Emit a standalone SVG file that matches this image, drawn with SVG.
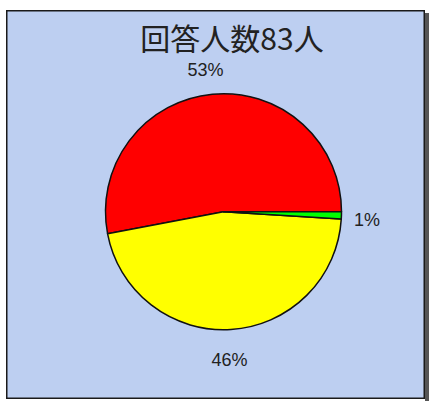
<svg xmlns="http://www.w3.org/2000/svg" width="429" height="401" viewBox="0 0 429 401">
<style>
.lbl{font-family:"Liberation Sans","DejaVu Sans",sans-serif;font-size:18px;fill:#222}
.title{font-family:"Noto Sans CJK JP","Noto Sans CJK SC",sans-serif;font-size:30px;fill:#222}
.slice{stroke:#111;stroke-width:1.5;stroke-linejoin:round}
</style>
<rect x="0" y="0" width="429" height="401" fill="#ffffff"/>
<rect x="425" y="13" width="4" height="388" fill="#555"/>
<g id="frame">
<rect x="6.75" y="10.75" width="417.5" height="387.5" fill="#BDCFF1" stroke="#1a1a1a" stroke-width="1.5"/>
</g>
<g id="title"><text class="title" x="232" y="50" text-anchor="middle">回答人数83人</text></g>
<g id="pie">
<g id="slice-red"><path class="slice" fill="#FF0000" d="M223.5 211.7 L341.5 211.7 A118 118 0 1 0 107.59 233.81 Z"/></g>
<g id="slice-yellow"><path class="slice" fill="#FFFF00" d="M223.5 211.7 L107.59 233.81 A118 118 0 0 0 341.27 219.11 Z"/></g>
<g id="slice-green"><path class="slice" fill="#00FF00" d="M223.5 211.7 L341.27 219.11 A118 118 0 0 0 341.5 211.7 Z"/></g>
</g>
<g id="labels">
<text class="lbl" x="205.5" y="76" text-anchor="middle">53%</text>
<text class="lbl" x="229.5" y="366" text-anchor="middle">46%</text>
<text class="lbl" x="354" y="226">1%</text>
</g>
</svg>
